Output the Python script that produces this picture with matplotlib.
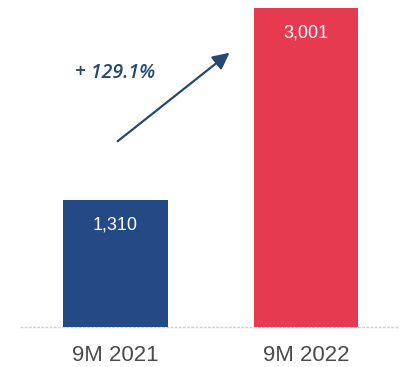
import matplotlib
matplotlib.use("Agg")
import matplotlib.pyplot as plt

categories = ["9M 2021", "9M 2022"]
values = [1310, 3001]
value_labels = ["1,310", "3,001"]
growth_label = "+ 129.1%"
colors = ["#244a86", "#e63a50"]

W, H = 407, 367
fig = plt.figure(figsize=(W / 100, H / 100), dpi=100)
fig.patch.set_facecolor("white")
ax = fig.add_axes([0, (H - 327) / H, 1, (327 - 8) / H])

x = list(range(len(categories)))
bars = ax.bar(x, values, width=0.55, color=colors, edgecolor="none")

ax.set_xlim(-0.606, 1.530)
ax.set_ylim(191, 3001)

ax.bar_label(bars, labels=value_labels, padding=-24, color="white",
             fontsize=13, family="Liberation Sans")

ax.set_xticks(x)
ax.set_xticklabels(categories, fontsize=16, color="#4a4a4a", family="Liberation Sans")
ax.tick_params(axis="x", length=0, pad=13)
ax.tick_params(axis="y", left=False, labelleft=False)
for s in ax.spines.values():
    s.set_visible(False)

ax.axhline(191, xmin=0.05, xmax=0.98, color="#d0d0d0", lw=1, ls=(0, (2, 1)),
           clip_on=False, zorder=0)

ax.annotate("", xy=(0.61, 2622), xytext=(0.0, 1812),
            arrowprops=dict(arrowstyle="-|>,head_length=1.0,head_width=0.5",
                            color="#244a73", lw=1.6))
ax.text(0.0, 2429, growth_label, ha="center", va="center", fontsize=14,
        color="#244a73", style="italic", fontweight="semibold", family="Open Sans")

fig.savefig("out.png", dpi=100)
